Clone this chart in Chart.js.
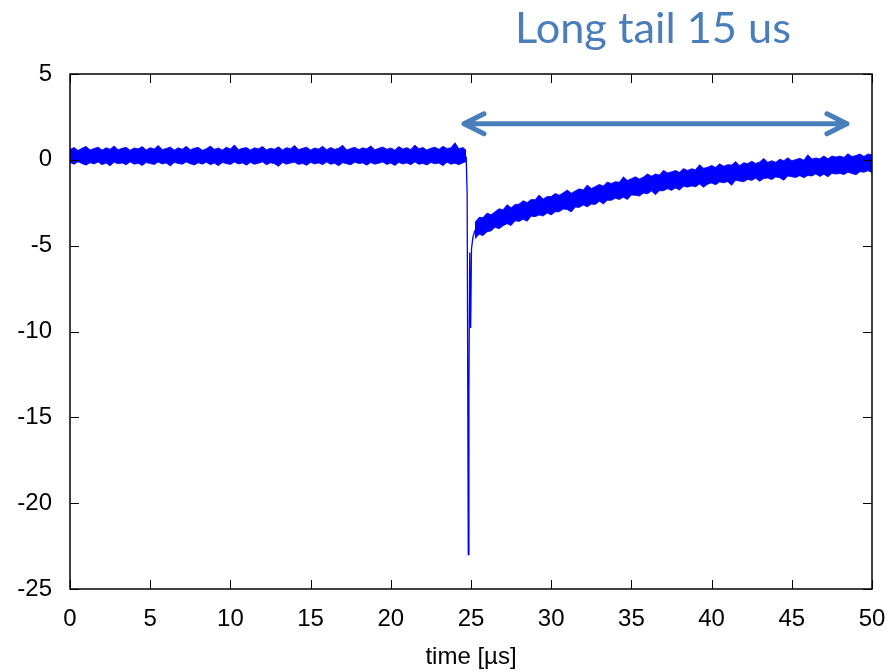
<!DOCTYPE html>
<html>
<head>
<meta charset="utf-8">
<script src="https://cdn.jsdelivr.net/npm/chart.js@4.4.0/dist/chart.umd.min.js"></script>
<style>
html, body { margin: 0; padding: 0; background: #fff; }
#wrap { width: 895px; height: 672px; }
</style>
</head>
<body>
<div id="wrap"><canvas id="trace" width="895" height="672"></canvas></div>
<script>
// pulse trace, time in us, signal (noise band as upper/lower edge)
var baseTime = [0, 0.25, 0.5, 0.75, 1, 1.25, 1.5, 1.75, 2, 2.25,
	2.5, 2.75, 3, 3.25, 3.5, 3.75, 4, 4.25, 4.5, 4.75,
	5, 5.25, 5.5, 5.75, 6, 6.25, 6.5, 6.75, 7, 7.25,
	7.5, 7.75, 8, 8.25, 8.5, 8.75, 9, 9.25, 9.5, 9.75,
	10, 10.25, 10.5, 10.75, 11, 11.25, 11.5, 11.75, 12, 12.25,
	12.5, 12.75, 13, 13.25, 13.5, 13.75, 14, 14.25, 14.5, 14.75,
	15, 15.25, 15.5, 15.75, 16, 16.25, 16.5, 16.75, 17, 17.25,
	17.5, 17.75, 18, 18.25, 18.5, 18.75, 19, 19.25, 19.5, 19.75,
	20, 20.25, 20.5, 20.75, 21, 21.25, 21.5, 21.75, 22, 22.25,
	22.5, 22.75, 23, 23.25, 23.5, 23.75, 24, 24.25, 24.5, 24.7];
var baseUpper = [0.60, 0.72, 0.55, 0.68, 0.78, 0.58, 0.66, 0.74, 0.57, 0.70,
	0.62, 0.81, 0.59, 0.67, 0.73, 0.56, 0.69, 0.64, 0.77, 0.58,
	0.71, 0.63, 0.84, 0.60, 0.66, 0.75, 0.57, 0.70, 0.62, 0.79,
	0.59, 0.68, 0.73, 0.56, 0.65, 0.80, 0.61, 0.69, 0.58, 0.74,
	0.63, 0.87, 0.60, 0.67, 0.72, 0.57, 0.70, 0.64, 0.78, 0.59,
	0.68, 0.62, 0.76, 0.58, 0.71, 0.65, 0.83, 0.60, 0.67, 0.74,
	0.57, 0.69, 0.63, 0.79, 0.59, 0.72, 0.61, 0.68, 0.85, 0.58,
	0.66, 0.73, 0.60, 0.70, 0.64, 0.81, 0.59, 0.67, 0.75, 0.62,
	0.69, 0.57, 0.77, 0.63, 0.71, 0.60, 0.86, 0.65, 0.72, 0.58,
	0.68, 0.74, 0.61, 0.79, 0.66, 0.70, 1.00, 0.64, 0.72, 0.55];
var baseLower = [-0.15, -0.26, -0.11, -0.22, -0.31, -0.17, -0.24, -0.13, -0.28, -0.19,
	-0.35, -0.14, -0.23, -0.18, -0.29, -0.12, -0.25, -0.20, -0.33, -0.16,
	-0.22, -0.27, -0.13, -0.24, -0.18, -0.36, -0.15, -0.21, -0.26, -0.12,
	-0.23, -0.30, -0.17, -0.25, -0.14, -0.28, -0.19, -0.34, -0.16, -0.22,
	-0.27, -0.13, -0.24, -0.18, -0.31, -0.15, -0.26, -0.20, -0.12, -0.29,
	-0.17, -0.23, -0.38, -0.16, -0.25, -0.19, -0.14, -0.27, -0.21, -0.32,
	-0.15, -0.24, -0.18, -0.28, -0.13, -0.26, -0.20, -0.35, -0.17, -0.23,
	-0.29, -0.14, -0.22, -0.18, -0.31, -0.16, -0.25, -0.20, -0.13, -0.27,
	-0.19, -0.33, -0.15, -0.24, -0.18, -0.28, -0.12, -0.26, -0.21, -0.30,
	-0.16, -0.23, -0.19, -0.34, -0.14, -0.25, -0.20, -0.28, -0.17, -0.10];

var tailTime = [25.25, 25.5, 25.75, 26, 26.25, 26.5, 26.75, 27, 27.25, 27.5,
	27.75, 28, 28.25, 28.5, 28.75, 29, 29.25, 29.5, 29.75, 30,
	30.25, 30.5, 30.75, 31, 31.25, 31.5, 31.75, 32, 32.25, 32.5,
	32.75, 33, 33.25, 33.5, 33.75, 34, 34.25, 34.5, 34.75, 35,
	35.25, 35.5, 35.75, 36, 36.25, 36.5, 36.75, 37, 37.25, 37.5,
	37.75, 38, 38.25, 38.5, 38.75, 39, 39.25, 39.5, 39.75, 40,
	40.25, 40.5, 40.75, 41, 41.25, 41.5, 41.75, 42, 42.25, 42.5,
	42.75, 43, 43.25, 43.5, 43.75, 44, 44.25, 44.5, 44.75, 45,
	45.25, 45.5, 45.75, 46, 46.25, 46.5, 46.75, 47, 47.25, 47.5,
	47.75, 48, 48.25, 48.5, 48.75, 49, 49.25, 49.5, 49.75, 50];
var tailUpper = [-3.65, -3.35, -3.36, -3.10, -3.20, -3.02, -2.85, -2.91, -2.61, -2.79,
	-2.60, -2.58, -2.38, -2.49, -2.31, -2.32, -2.05, -2.28, -2.14, -2.14,
	-1.96, -2.06, -1.92, -1.76, -1.94, -1.81, -1.69, -1.75, -1.47, -1.67,
	-1.55, -1.43, -1.53, -1.29, -1.38, -1.27, -1.31, -0.99, -1.20, -1.10,
	-0.99, -1.12, -1.00, -0.82, -0.95, -0.82, -0.89, -0.61, -0.76, -0.70,
	-0.62, -0.73, -0.51, -0.62, -0.52, -0.58, -0.28, -0.49, -0.43, -0.33,
	-0.44, -0.23, -0.37, -0.28, -0.30, -0.10, -0.33, -0.17, -0.22, -0.08,
	-0.21, -0.12, 0.08, -0.14, -0.05, -0.14, 0.04, -0.05, 0.12, -0.05,
	0.02, 0.09, -0.02, 0.30, 0.05, 0.11, 0.06, 0.23, 0.06, 0.22,
	0.16, 0.22, 0.14, 0.36, 0.19, 0.25, 0.34, 0.20, 0.34, 0.28];
var tailLower = [-4.60, -4.34, -4.41, -4.19, -4.14, -3.93, -4.01, -3.84, -3.72, -3.83,
	-3.55, -3.59, -3.46, -3.58, -3.28, -3.31, -3.21, -3.27, -3.09, -3.21,
	-3.02, -3.03, -2.87, -2.90, -3.04, -2.75, -2.77, -2.63, -2.74, -2.58,
	-2.60, -2.41, -2.57, -2.36, -2.36, -2.24, -2.31, -2.18, -2.31, -2.05,
	-2.07, -2.11, -1.94, -1.98, -1.82, -2.03, -1.80, -1.80, -1.68, -1.78,
	-1.64, -1.76, -1.54, -1.59, -1.52, -1.57, -1.41, -1.60, -1.42, -1.35,
	-1.45, -1.29, -1.34, -1.27, -1.48, -1.19, -1.24, -1.28, -1.14, -1.20,
	-1.07, -1.25, -1.09, -1.06, -1.15, -1.00, -1.05, -1.19, -0.94, -0.99,
	-1.03, -0.92, -1.05, -0.91, -0.94, -0.82, -0.97, -0.84, -0.99, -0.79,
	-0.83, -0.79, -0.86, -0.72, -0.80, -0.87, -0.69, -0.72, -0.63, -0.74];

// the fast negative spike
var spikeTime = [24.70, 24.76, 24.83, 24.87, 24.92, 24.98, 25.03, 25.12, 25.25];
var spikeValue = [0.2, -2.0, -23.0, -13.5, -5.4, -9.8, -5.2, -4.5, -4.1];

var xTicks = [0, 5, 10, 15, 20, 25, 30, 35, 40, 45, 50];
var yTicks = [-25, -20, -15, -10, -5, 0, 5];

var titleText = 'Long tail 15 us';
var xTitle = 'time [\u00b5s]';

var TRACE = '#0000ff';
var NOTE = '#4a7ebb';

function pts(t, v) {
	return t.map(function(x, i) { return { x: x, y: v[i] }; });
}

function band(t, v, fill) {
	return {
		data: pts(t, v),
		borderColor: TRACE,
		backgroundColor: TRACE,
		borderWidth: 0.8,
		pointRadius: 0,
		tension: 0,
		fill: fill
	};
}

var framePlugin = {
	id: 'gnuframe',
	afterDraw: function(chart) {
		var ctx = chart.ctx, a = chart.chartArea;
		var xs = chart.scales.x, ys = chart.scales.y;
		ctx.save();

		// inward ticks on all four sides
		ctx.strokeStyle = '#000';
		ctx.lineWidth = 1;
		ctx.beginPath();
		xTicks.forEach(function(v) {
			var px = Math.round(xs.getPixelForValue(v)) + 0.5;
			ctx.moveTo(px, a.bottom); ctx.lineTo(px, a.bottom - 9);
			ctx.moveTo(px, a.top); ctx.lineTo(px, a.top + 9);
		});
		yTicks.forEach(function(v) {
			var py = Math.round(ys.getPixelForValue(v)) + 0.5;
			ctx.moveTo(a.left, py); ctx.lineTo(a.left + 9, py);
			ctx.moveTo(a.right, py); ctx.lineTo(a.right - 9, py);
		});
		ctx.stroke();

		ctx.lineWidth = 1.5;
		ctx.strokeRect(a.left, a.top, a.right - a.left, a.bottom - a.top);

		// double arrow over the tail
		var x1 = xs.getPixelForValue(24.5), x2 = xs.getPixelForValue(48.5);
		var ay = ys.getPixelForValue(2.1);
		ctx.strokeStyle = NOTE;
		ctx.lineWidth = 5;
		ctx.lineCap = 'round';
		ctx.lineJoin = 'round';
		ctx.beginPath();
		ctx.moveTo(x1 + 2, ay); ctx.lineTo(x2 - 2, ay);
		ctx.moveTo(x1 + 21, ay - 10); ctx.lineTo(x1 + 1, ay); ctx.lineTo(x1 + 21, ay + 10);
		ctx.moveTo(x2 - 21, ay - 10); ctx.lineTo(x2 - 1, ay); ctx.lineTo(x2 - 21, ay + 10);
		ctx.stroke();

		// note above the plot
		ctx.font = '40px Lato';
		var w = ctx.measureText(titleText).width;
		var size = 40 * 276 / w;
		ctx.font = size.toFixed(1) + 'px Lato';
		ctx.fillStyle = NOTE;
		ctx.textAlign = 'left';
		ctx.textBaseline = 'alphabetic';
		ctx.fillText(titleText, 515, 43);

		ctx.restore();
	}
};

var tickFont = { family: '"Liberation Sans", Arial, sans-serif', size: 24 };

new Chart(document.getElementById('trace'), {
	type: 'line',
	data: {
		datasets: [
			band(baseTime, baseLower, false),
			band(baseTime, baseUpper, '-1'),
			band(tailTime, tailLower, false),
			band(tailTime, tailUpper, '-1'),
			{
				data: pts(spikeTime, spikeValue),
				borderColor: TRACE,
				borderWidth: 1.3,
				pointRadius: 0,
				tension: 0,
				fill: false
			}
		]
	},
	options: {
		responsive: false,
		devicePixelRatio: 1,
		animation: false,
		layout: { padding: { top: 74, right: 23, left: 0, bottom: 0 } },
		plugins: { legend: { display: false }, tooltip: { enabled: false } },
		scales: {
			x: {
				type: 'linear',
				min: 0,
				max: 50,
				afterBuildTicks: function(s) { s.ticks = xTicks.map(function(v) { return { value: v }; }); },
				ticks: { font: tickFont, color: '#000', padding: 16, maxRotation: 0 },
				grid: { display: false, drawTicks: false },
				border: { display: false },
				title: { display: true, text: xTitle, font: tickFont, color: '#000', padding: { top: 0, bottom: 0 } },
				afterFit: function(s) { s.height = 83; s.paddingLeft = 0; s.paddingRight = 0; }
			},
			y: {
				type: 'linear',
				min: -25,
				max: 5,
				afterBuildTicks: function(s) { s.ticks = yTicks.map(function(v) { return { value: v }; }); },
				ticks: { font: tickFont, color: '#000', padding: 18 },
				grid: { display: false, drawTicks: false },
				border: { display: false },
				afterFit: function(s) { s.width = 70; s.paddingTop = 0; s.paddingBottom = 0; }
			}
		}
	},
	plugins: [framePlugin]
});
</script>
</body>
</html>
